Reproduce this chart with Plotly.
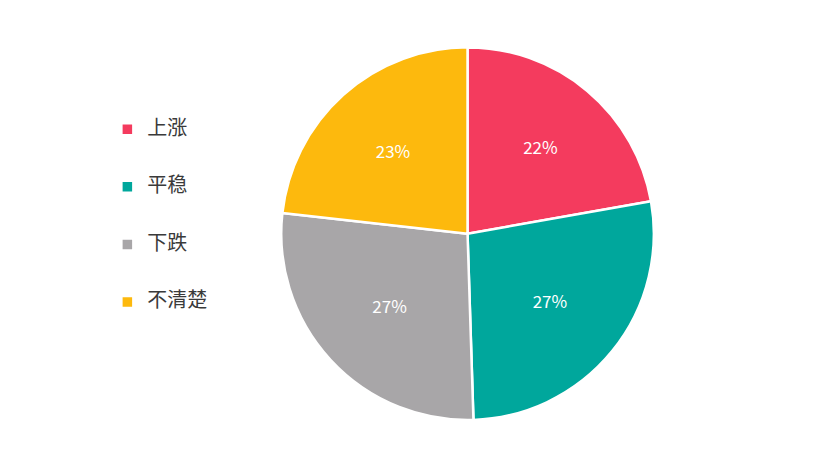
import plotly.graph_objects as go

labels = ['上涨', '平稳', '下跌', '不清楚']
values = [22, 27, 27, 23]
pct_text = ['22%', '27%', '27%', '23%']
colors = ['#F43B5E', '#00A79C', '#A8A6A8', '#FDB90D']

# pad legend names with blank lines so the entries are spaced out like the original
legend_names = ['&nbsp;<br><span style="font-size:20px">' + l + '</span><br>&nbsp;'
                for l in labels]

fig = go.Figure(go.Pie(
    labels=legend_names,
    values=values,
    text=pct_text,
    textinfo='text',
    textposition='inside',
    insidetextorientation='horizontal',
    textfont=dict(color='white', size=17, family='Noto Sans CJK SC'),
    marker=dict(colors=colors, line=dict(color='white', width=2.5)),
    sort=False,
    direction='clockwise',
    rotation=0,
    domain=dict(x=[0.33, 0.78], y=[0.084, 0.913]),
))

fig.update_layout(
    width=828, height=450,
    margin=dict(l=0, r=0, t=0, b=0),
    paper_bgcolor='white',
    showlegend=True,
    legend=dict(
        x=0.12, y=0.538, xanchor='left', yanchor='middle',
        font=dict(family='Noto Sans CJK SC', size=14, color='#3a3a3a'),
        itemwidth=30,
    ),
)

fig.write_html("out.html")
